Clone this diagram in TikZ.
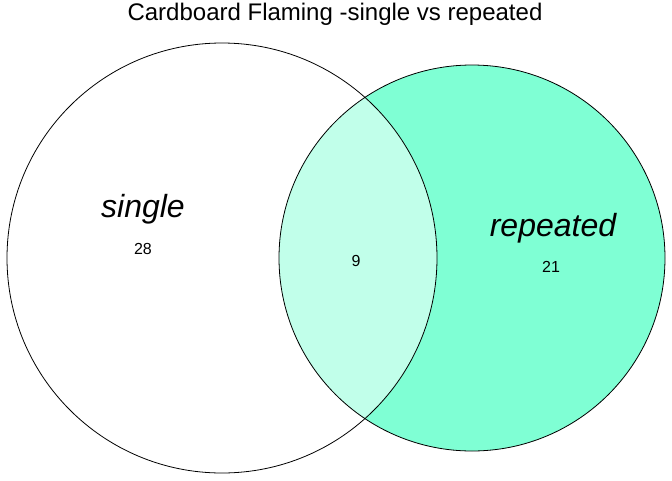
\documentclass[tikz,border=0pt]{standalone}
\usepackage{fontspec}
\setmainfont{Liberation Sans}
\definecolor{aqua}{RGB}{127,255,212}
\definecolor{aqualight}{RGB}{193,255,234}

\begin{document}
\begin{tikzpicture}[x=1pt, y=-1pt,
    setlabel/.style={font=\fontsize{32}{36}\selectfont\itshape, anchor=base},
    count/.style={font=\fontsize{16}{18}\selectfont, anchor=base},
    outline/.style={draw=black, line width=0.8pt}]
    \useasboundingbox (0,0) rectangle (672,480);
    % sets
    \fill[aqua] (472,258) circle (193);
    \begin{scope}
        \clip (222,258) circle (215);
        \fill[aqualight] (472,258) circle (193);
    \end{scope}
    \draw[outline] (222,258) circle (215);
    \draw[outline] (472,258) circle (193);
    % title
    \node[anchor=base, font=\fontsize{24}{28}\selectfont] (title) at (335,20) {Cardboard Flaming -single vs repeated};
    % labels
    \node[setlabel] (single) at (143,217) {single};
    \node[setlabel] (repeated) at (553,236) {repeated};
    \node[count] (nsingle) at (143,254) {28};
    \node[count] (nboth) at (356,266) {9};
    \node[count] (nrepeated) at (551,272) {21};
\end{tikzpicture}
\end{document}
